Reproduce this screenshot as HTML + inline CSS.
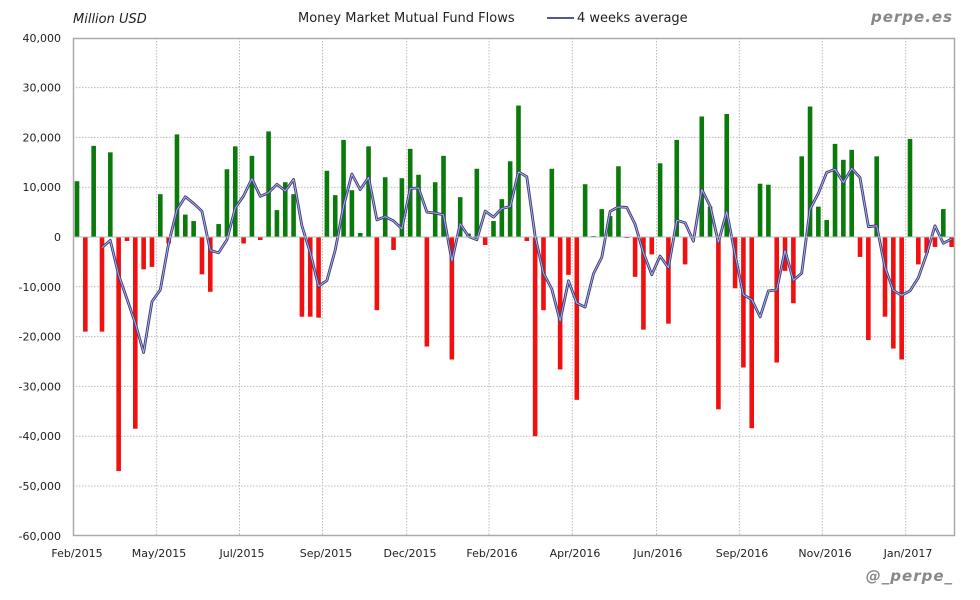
<!DOCTYPE html>
<html><head><meta charset="utf-8"><style>
html,body{margin:0;padding:0;background:#fff;}
svg{display:block;}
text{font-family:"DejaVu Sans","Liberation Sans",sans-serif;}
</style></head><body>
<svg id="c" width="980" height="600" xmlns="http://www.w3.org/2000/svg">
<rect x="0" y="0" width="980" height="600" fill="#fff"/>
<g id="grid"></g>
<g id="bars"></g>
<g id="line"></g>
<rect x="73.5" y="38.5" width="881" height="497" fill="none" stroke="#aaa" stroke-width="1.5"/>
<line x1="73" y1="237" x2="955" y2="237" stroke="#bbb" stroke-width="1"/>
<g id="labels" font-size="11" fill="#222"></g>
<text x="73" y="23" font-size="13" font-style="italic" fill="#222">Million USD</text>
<text x="298" y="22" font-size="13" fill="#222">Money Market Mutual Fund Flows</text>
<line x1="547" y1="18" x2="574" y2="18" stroke="#55559a" stroke-width="2"/>
<text x="577" y="22" font-size="13" fill="#222">4 weeks average</text>
<text x="953" y="22" font-size="15" font-weight="bold" font-style="italic" fill="#888" text-anchor="end" font-family="DejaVu Sans Mono, Liberation Mono, monospace" letter-spacing="1">perpe.es</text>
<text x="953" y="581" font-size="15" font-weight="bold" font-style="italic" fill="#888" text-anchor="end" font-family="DejaVu Sans Mono, Liberation Mono, monospace" letter-spacing="1">@_perpe_</text>
</svg>
<script>
var NS="http://www.w3.org/2000/svg";
function el(p,t,a,txt){var e=document.createElementNS(NS,t);for(var k in a)e.setAttribute(k,a[k]);if(txt!=null)e.textContent=txt;document.getElementById(p).appendChild(e);return e;}
var zero=237,sc=4.98;
function Y(v){return zero-v*sc;}
var vx=[156.7,239.5,322.5,406.7,489,572.3,656.5,739.3,822.3,905.7];
vx.forEach(function(x){el("grid","line",{x1:x,y1:38,x2:x,y2:536,stroke:"#bbb","stroke-dasharray":"1.5,1.5","stroke-width":1});});
for(var v=-60;v<=40;v+=10){var y=Y(v);
 if(v!==0&&v!==40&&v!==-60)el("grid","line",{x1:73,y1:y,x2:955,y2:y,stroke:"#bbb","stroke-dasharray":"1.5,1.5","stroke-width":1});
 var s=v===0?"0":(v<0?"-":"")+Math.abs(v)+",000";
 el("labels","text",{x:61,y:y+4,"text-anchor":"end"},s);}
var ml=[[77,"Feb/2015"],[159,"May/2015"],[242,"Jul/2015"],[326,"Sep/2015"],[410,"Dec/2015"],[492,"Feb/2016"],[575,"Apr/2016"],[658,"Jun/2016"],[742,"Sep/2016"],[825,"Nov/2016"],[908,"Jan/2017"]];
ml.forEach(function(m){el("labels","text",{x:m[0],y:557,"text-anchor":"middle"},m[1]);});
var d=[11.2,-19,18.3,-19,17,-47,-0.8,-38.5,-6.5,-6,8.6,-1.3,20.6,4.5,3.2,-7.5,-11,2.6,13.6,18.2,-1.3,16.3,-0.6,21.2,5.4,11,8.6,-16,-16,-16.2,13.3,8.4,19.5,9.4,0.8,18.2,-14.7,12,-2.6,11.8,17.7,12.5,-22,11,16.3,-24.6,8,0.7,13.7,-1.6,3.2,7.6,15.2,26.4,-0.8,-40,-14.7,13.7,-26.6,-7.6,-32.7,10.6,0.2,5.6,4.2,14.2,-0.2,-8,-18.6,-3.5,14.8,-17.4,19.5,-5.5,0,24.2,6.1,-34.6,24.7,-10.3,-26.2,-38.4,10.7,10.5,-25.2,-6.8,-13.3,16.2,26.2,6.1,3.4,18.7,15.5,17.5,-4,-20.7,16.2,-16,-22.4,-24.6,19.7,-5.5,-3.2,-2,5.6,-2];
var pts=[];
d.forEach(function(v,i){var x=77+i*8.33;var y0=Y(Math.max(v,0)),h=Math.abs(v)*sc;
 if(h>0.1)el("bars","rect",{x:x-2.3,y:y0,width:4.6,height:h,fill:v>=0?"#0a7a0a":"#f01010"});
 if(i>=3){var a=(d[i]+d[i-1]+d[i-2]+d[i-3])/4;pts.push(x.toFixed(1)+","+Y(a).toFixed(1));}});
el("line","polyline",{points:pts.join(" "),fill:"none",stroke:"#3c3c85","stroke-width":2.8,"stroke-linejoin":"round"});
el("line","polyline",{points:pts.join(" "),fill:"none",stroke:"#b8b8dc","stroke-width":0.9,"stroke-linejoin":"round"});
</script>
</body></html>
